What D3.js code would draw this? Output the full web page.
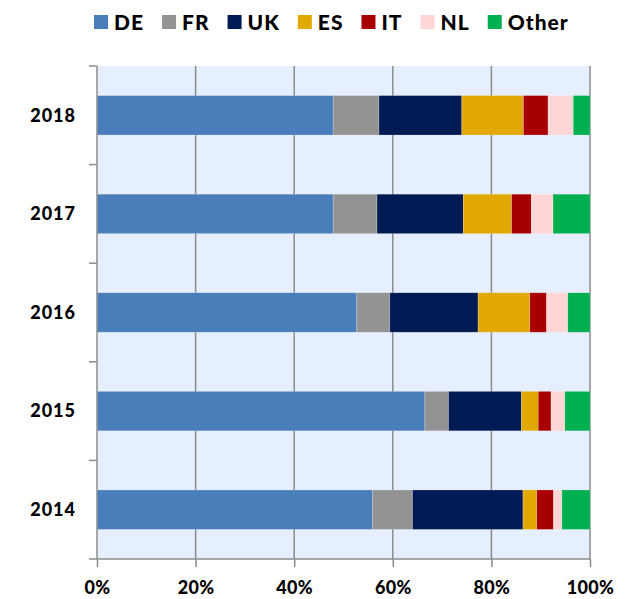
<!DOCTYPE html>
<html>
<head>
<meta charset="utf-8">
<script src="https://cdn.jsdelivr.net/npm/d3@7"></script>
<style>
    body { margin: 0; background: #fff; }
    svg text { font-family: "Lato", "DejaVu Sans", sans-serif; font-weight: 900; fill: #000; }
</style>
</head>
<body>
<svg id="chart" width="629" height="599"></svg>
<script>
// shares by country, % of each year's total
const years = ["2018", "2017", "2016", "2015", "2014"];
const countries = ["DE", "FR", "UK", "ES", "IT", "NL", "Other"];
const colors = ["#4a7ebb", "#939393", "#001b54", "#e0a800", "#a80000", "#ffd6d6", "#00af50"];

const DE = [47.9, 47.9, 52.7, 66.5, 55.9];
const FR = [9.3, 8.9, 6.7, 4.8, 8.1];
const UK = [16.8, 17.5, 17.9, 14.8, 22.4];
const ES = [12.5, 9.8, 10.5, 3.4, 2.8];
const IT = [5.0, 4.0, 3.4, 2.6, 3.4];
const NL = [5.1, 4.4, 4.3, 2.8, 1.7];
const Other = [3.4, 7.5, 4.5, 5.1, 5.7];
const xTicks = [0, 20, 40, 60, 80, 100];

const series = {DE, FR, UK, ES, IT, NL, Other};
let rows = years.map((y, i) => {
    let r = {year: y};
    countries.forEach(c => r[c] = series[c][i]);
    return r;
});

let svg = d3.select("#chart");
let margin = {top: 66, right: 39, bottom: 40, left: 97};
let width = 629 - margin.left - margin.right;
let height = 599 - margin.top - margin.bottom;

let x = d3.scaleLinear().domain([0, 100]).range([0, width]);
let y = d3.scaleBand().domain(years).range([0, height])
    .paddingInner(0.6).paddingOuter(0.3);
let color = d3.scaleOrdinal().domain(countries).range(colors);

let g = svg.append("g")
    .attr("transform", "translate(" + margin.left + "," + margin.top + ")");

g.append("rect")
    .attr("width", width)
    .attr("height", height)
    .attr("fill", "#e5efff");

// vertical grid
g.append("g")
    .selectAll("line")
    .data(xTicks.slice(1))
    .enter().append("line")
    .attr("x1", d => x(d)).attr("x2", d => x(d))
    .attr("y1", 0).attr("y2", height)
    .attr("stroke", "#8c8c8c")
    .attr("stroke-width", 1.5);

let stack = d3.stack().keys(countries);
let layers = stack(rows);

g.append("g")
    .selectAll("g")
    .data(layers)
    .enter().append("g")
    .attr("fill", d => color(d.key))
    .selectAll("rect")
    .data(d => d)
    .enter().append("rect")
    .attr("x", d => x(d[0]))
    .attr("y", d => y(d.data.year))
    .attr("width", d => Math.min(x(d[1]), width) - x(d[0]))
    .attr("height", y.bandwidth())
    .attr("stroke", "#ffffff")
    .attr("stroke-opacity", 0.35)
    .attr("stroke-width", 0.6);

// x axis
let xAxis = d3.axisBottom(x).tickValues(xTicks).tickFormat(d => d + "%").tickSize(8).tickSizeOuter(0);
let xg = g.append("g")
    .attr("transform", "translate(0," + height + ")")
    .call(xAxis);
xg.select(".domain").attr("stroke", "#8c8c8c").attr("stroke-width", 1.5).attr("d", "M-8,0H" + width);
xg.selectAll(".tick line").attr("stroke", "#8c8c8c").attr("stroke-width", 1.5);
xg.selectAll(".tick text")
    .attr("y", 22)
    .style("font-size", "18px")
    .style("font-family", "Lato, sans-serif")
    .style("font-weight", 900)
    .style("letter-spacing", "0.3px");

// y axis: ticks between bands
let yg = g.append("g");
yg.append("line")
    .attr("x1", 0).attr("x2", 0).attr("y1", 0).attr("y2", height)
    .attr("stroke", "#8c8c8c").attr("stroke-width", 1.5);
let step = y.step();
yg.selectAll(".ytick")
    .data(d3.range(years.length))
    .enter().append("line")
    .attr("class", "ytick")
    .attr("x1", -8).attr("x2", 0)
    .attr("y1", i => y(years[i]) - y.paddingOuter() * step)
    .attr("y2", i => y(years[i]) - y.paddingOuter() * step)
    .attr("stroke", "#8c8c8c").attr("stroke-width", 1.5);
yg.selectAll(".ylabel")
    .data(years)
    .enter().append("text")
    .attr("class", "ylabel")
    .attr("x", -21)
    .attr("y", d => y(d) + y.bandwidth() / 2)
    .attr("dy", "0.35em")
    .attr("text-anchor", "end")
    .style("font-size", "18px")
    .style("letter-spacing", "1px")
    .text(d => d);

// legend
let legend = svg.append("g").attr("transform", "translate(94,15)");
let lx = 0;
countries.forEach(c => {
    let item = legend.append("g").attr("transform", "translate(" + lx + ",0)");
    item.append("rect").attr("width", 14).attr("height", 14).attr("fill", color(c));
    let t = item.append("text")
        .attr("x", 20).attr("y", 7).attr("dy", "0.36em")
        .style("font-size", "21px")
        .style("letter-spacing", "1px")
        .text(c);
    lx += 20 + t.node().getComputedTextLength() + 18;
});
</script>
</body>
</html>
